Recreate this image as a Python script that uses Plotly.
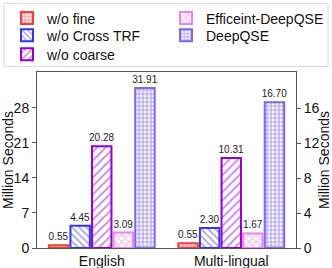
import plotly.graph_objects as go

categories = ["English", "Multi-lingual"]
series_names = ["w/o fine", "w/o Cross TRF", "w/o coarse", "Efficeint-DeepQSE", "DeepQSE"]
english_values = [0.55, 4.45, 20.28, 3.09, 31.91]
multilingual_values = [0.55, 2.30, 10.31, 1.67, 16.70]
colors = ["#f23c3c", "#3434f2", "#9400d3", "#ee82ee", "#7b68ee"]
patterns = ["+", "\\", "/", "x", "+"]
pattern_sizes = [4, 5, 6, 5, 4]
solidities = [0.65, 0.3, 0.3, 0.45, 0.65]
legend_ids = ["legend", "legend2", "legend3", "legend4", "legend5"]
legend_x = [-0.1158, -0.1158, -0.1158, 0.498, 0.498]
legend_y = [1.395, 1.298, 1.190, 1.395, 1.298]
left_ticks = [0, 7, 14, 21, 28]
right_ticks = [0, 4, 8, 12, 16]

fig = go.Figure()
for i, name in enumerate(series_names):
    common = dict(
        name=name,
        offsetgroup=str(i),
        marker=dict(
            color="white",
            line=dict(color=colors[i], width=2),
            pattern=dict(shape=patterns[i], fgcolor=colors[i], bgcolor="white",
                         size=pattern_sizes[i], solidity=solidities[i]),
        ),
        texttemplate="%{y:.2f}",
        textposition="outside",
        textfont=dict(size=10, color="#222"),
        constraintext="none",
        cliponaxis=False,
        legend=legend_ids[i],
    )
    fig.add_trace(go.Bar(x=[categories[0]], y=[english_values[i]], yaxis="y",
                         showlegend=True, **common))
    fig.add_trace(go.Bar(x=[categories[1]], y=[multilingual_values[i]], yaxis="y2",
                         showlegend=False, **common))

axis_common = dict(showline=True, linecolor="#555", linewidth=1, ticks="outside",
                   ticklen=4, tickcolor="#555", showgrid=False, zeroline=False,
                   tickfont=dict(size=14, color="#111"))

legend_layouts = {}
for i, lid in enumerate(legend_ids):
    legend_layouts[lid] = dict(orientation="v", xanchor="left", yanchor="top",
                               x=legend_x[i], y=legend_y[i],
                               bgcolor="rgba(0,0,0,0)", borderwidth=0,
                               font=dict(size=14, color="#111"))

fig.update_layout(
    width=332, height=268,
    margin=dict(l=37, r=36, t=72, b=20, autoexpand=False),
    paper_bgcolor="white", plot_bgcolor="white",
    font=dict(family="Liberation Sans, Arial, sans-serif", size=14, color="#111"),
    barmode="group", bargap=0.166, bargroupgap=0.1,
    xaxis=dict(type="category", categoryorder="array", categoryarray=categories,
               showline=True, linecolor="#555", linewidth=1, mirror=True,
               ticks="", showgrid=False, tickfont=dict(size=14, color="#111")),
    yaxis=dict(range=[0, 35.1], tickvals=left_ticks,
               title=dict(text="Million Seconds", font=dict(size=14), standoff=3),
               **axis_common),
    yaxis2=dict(range=[0, 20.15], tickvals=right_ticks, overlaying="y", side="right",
                title=dict(text="Million Seconds", font=dict(size=14), standoff=3),
                **axis_common),
    shapes=[dict(type="rect", xref="paper", yref="paper",
                 x0=-0.1274, x1=1.1236, y0=1.032, y1=1.390,
                 line=dict(color="#d8d8d8", width=1), fillcolor="rgba(0,0,0,0)",
                 layer="below")],
    **legend_layouts,
)

fig.write_html("out.html", config={"displayModeBar": False},
               post_script="document.body.style.margin='0px';")
